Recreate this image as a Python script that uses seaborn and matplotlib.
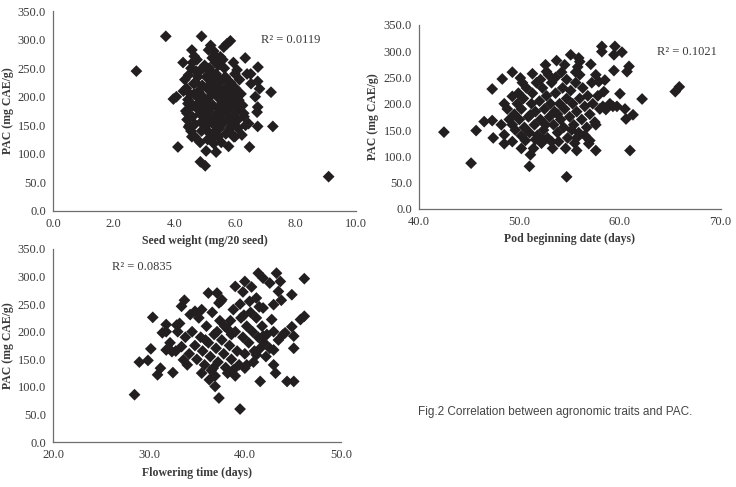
import numpy as np
import pandas as pd
import matplotlib
matplotlib.use("Agg")
import matplotlib.pyplot as plt
import seaborn as sns

# Seed weight (mg/20 seed) vs PAC
seed_weight = [
    2.75, 3.72, 4.90, 4.07, 3.97, 4.29, 4.58, 4.66, 4.12, 4.86, 5.02, 5.38, 5.79, 6.48,
    6.75, 7.25, 7.19, 6.81, 6.75, 6.76, 6.67, 6.73, 6.75, 6.34, 6.52, 6.53, 6.07, 9.09,
    5.85, 5.74, 5.63, 5.52, 5.13, 6.13, 6.29, 6.45, 6.23, 5.96, 5.85, 5.24, 5.30, 4.64,
    4.47, 4.42, 4.47, 4.58, 4.95,
    4.35, 4.40, 4.45, 4.38, 4.42, 4.50, 4.55, 4.60, 4.62, 4.65, 4.70, 4.72, 4.78, 4.80,
    4.82, 4.85, 4.88, 4.90, 4.92, 4.95, 4.98, 5.00, 5.02, 5.05, 5.08, 5.10, 5.12, 5.15,
    5.18, 5.20, 5.22, 5.25, 5.28, 5.30, 5.32, 5.35, 5.38, 5.40, 5.42, 5.45, 5.48, 5.50,
    5.52, 5.55, 5.58, 5.60, 5.62, 5.65, 5.68, 5.70, 5.72, 5.75, 5.78, 5.80, 5.85, 5.88,
    5.90, 5.92, 5.95, 6.00, 6.02, 6.05, 6.08, 6.10, 6.15, 6.20, 6.25, 6.30, 5.40, 5.30,
    5.45, 5.60, 5.25, 4.75, 4.55, 4.85, 5.10, 5.45, 5.70, 6.00, 6.35, 6.40, 4.50, 4.68,
    5.15, 5.55, 5.05, 4.75, 5.35, 5.65, 5.95, 6.10, 4.60, 5.20, 4.30, 5.00,
    4.52, 4.78, 5.07, 5.33, 5.57, 5.83, 4.68, 4.97, 5.27, 5.53, 5.77, 4.83, 5.13, 5.43,
    5.67, 6.05, 4.45, 5.97,
]
seed_pac = [
    245, 306, 306, 200, 196, 260, 282, 271, 112, 86, 79, 103, 113, 112,
    148, 148, 208, 214, 227, 252, 200, 173, 182, 268, 240, 223, 247, 60,
    298, 293, 287, 270, 282, 194, 171, 153, 133, 130, 147, 127, 118, 223,
    238, 171, 147, 130, 250,
    230, 215, 195, 175, 160, 150, 140, 165, 185, 205, 225, 245, 235, 210,
    190, 170, 155, 140, 220, 200, 180, 160, 145, 235, 215, 195, 175, 155,
    135, 245, 225, 205, 185, 165, 150, 260, 240, 220, 200, 180, 160, 145,
    230, 210, 190, 170, 155, 250, 235, 215, 195, 175, 160, 140, 225, 205,
    185, 165, 150, 240, 215, 195, 175, 160, 230, 205, 185, 165, 270, 280,
    255, 265, 268, 265, 250, 120, 125, 130, 135, 130, 150, 240, 180, 130,
    250, 120, 105, 200, 140, 185, 260, 145, 260, 290, 210, 255,
    205, 178, 188, 212, 228, 198, 152, 168, 230, 178, 208, 245, 162, 172,
    200, 185, 188, 210,
]

# Pod beginning date (days) vs PAC
pod_date = [
    42.5, 45.2, 45.7, 46.5, 47.3, 47.3, 47.4, 48.3, 48.5, 48.5, 48.5, 49.3, 49.3, 49.3,
    49.3, 50.1, 50.2, 50.2, 51.0, 51.1, 51.3, 52.1, 52.6, 52.7, 53.7, 54.5, 55.1, 54.7,
    54.7, 55.9, 56.0, 55.6, 57.1, 58.2, 58.2, 59.5, 59.4, 60.2, 59.4, 60.7, 60.9, 60.0,
    62.2, 61.3, 60.6, 61.0, 57.6, 57.6, 56.9, 55.7, 55.7, 58.4, 57.9, 58.3, 58.6, 59.3,
    59.7, 65.9, 65.5, 53.2, 52.4, 51.6, 51.1,
    49.5, 49.8, 50.0, 50.2, 50.4, 50.5, 50.7, 50.9, 51.0, 51.2, 51.3, 51.5, 51.6, 51.8,
    52.0, 52.1, 52.3, 52.4, 52.5, 52.7, 52.8, 53.0, 53.1, 53.2, 53.4, 53.5, 53.6, 53.8,
    54.0, 54.1, 54.3, 54.4, 54.5, 54.7, 54.8, 55.0, 55.1, 55.3, 55.4, 55.6, 55.7, 55.9,
    56.0, 56.2, 56.3, 56.5, 56.7, 56.8, 57.0, 57.2, 57.3, 57.5, 57.8, 58.0, 52.9, 53.6,
    51.7, 50.3, 49.0, 48.8, 49.6, 50.6, 52.2, 53.9, 55.5, 56.5, 54.2, 56.0, 58.5, 57.0,
    51.4, 53.3, 48.2, 49.9, 59.0, 55.8, 54.6, 60.5, 57.6, 52.6, 53.8, 55.2,
]
pod_pac = [
    146, 87, 149, 166, 168, 228, 135, 247, 200, 141, 124, 260, 214, 160,
    128, 249, 139, 115, 81, 103, 257, 246, 274, 261, 282, 274, 293, 246,
    61, 287, 280, 260, 275, 309, 299, 309, 293, 298, 263, 261, 271, 219,
    209, 179, 171, 111, 111, 160, 124, 111, 135, 223, 242, 195, 189, 195,
    195, 232, 223, 128, 132, 132, 179,
    180, 200, 170, 190, 210, 155, 230, 175, 145, 200, 220, 160, 185, 140,
    205, 170, 230, 150, 190, 215, 135, 175, 200, 240, 160, 185, 220, 145,
    200, 170, 230, 155, 190, 210, 135, 175, 225, 200, 160, 240, 185, 145,
    210, 170, 230, 195, 155, 215, 180, 240, 200, 165, 215, 190, 255, 250,
    240, 240, 170, 190, 150, 130, 125, 128, 125, 140, 260, 255, 245, 130,
    115, 115, 160, 220, 200, 270, 115, 190, 255, 160, 180, 150,
]

# Flowering time (days) vs PAC
flower_time = [
    28.5, 29.0, 29.9, 30.2, 30.4, 30.9, 31.2, 31.4, 31.8, 31.8, 32.5, 32.4, 32.9, 33.4,
    33.7, 33.6, 33.4, 34.3, 34.8, 35.5, 36.2, 36.3, 36.9, 37.3, 37.1, 37.3, 37.6, 39.0,
    40.0, 39.8, 40.7, 39.5, 41.4, 41.9, 42.6, 43.3, 43.7, 43.5, 43.8, 43.0, 44.9, 46.2,
    46.2, 45.8, 44.9, 45.1, 45.1, 44.2, 44.4, 45.1, 41.6, 43.0, 43.2, 43.0, 42.8, 41.9,
    41.2, 41.9, 41.2, 40.2, 40.0, 38.8, 36.7,
    34.5, 34.8, 35.0, 35.2, 35.4, 35.6, 35.8, 36.0, 36.2, 36.4, 36.6, 36.8, 37.0, 37.2,
    37.4, 37.6, 37.8, 38.0, 38.2, 38.4, 38.6, 38.8, 39.0, 39.2, 39.4, 39.6, 39.8, 40.0,
    40.2, 40.4, 40.6, 40.8, 41.0, 41.2, 41.4, 41.6, 41.8, 42.0, 42.3, 42.6, 35.5, 37.5,
    38.5, 39.5, 40.5, 36.5, 38.2, 39.0, 34.2, 33.8, 33.0, 32.2, 32.8, 34.0, 37.9, 36.9,
    40.9, 42.2, 39.9, 38.6, 37.1, 35.9, 41.5, 43.5, 43.0, 44.0, 31.8, 33.2,
]
flower_pac = [
    86, 145, 148, 169, 226, 122, 134, 198, 213, 167, 126, 164, 212, 246,
    257, 149, 173, 231, 237, 125, 270, 113, 101, 80, 270, 252, 258, 282,
    291, 272, 281, 60, 306, 297, 288, 306, 291, 273, 257, 249, 267, 296,
    228, 222, 209, 192, 170, 198, 110, 110, 110, 140, 125, 167, 222, 243,
    261, 192, 158, 140, 134, 131, 134,
    200, 175, 150, 225, 190, 165, 140, 210, 180, 155, 235, 195, 170, 145,
    220, 185, 160, 135, 205, 175, 150, 240, 200, 165, 140, 225, 190, 160,
    210, 180, 235, 200, 165, 225, 190, 170, 210, 180, 195, 170, 240, 255,
    220, 250, 255, 130, 125, 120, 160, 190, 200, 180, 165, 140, 210, 120,
    145, 155, 230, 195, 200, 185, 245, 185, 200, 195, 200, 215,
]

sns.set_style("white")
plt.rcParams["font.family"] = ["Liberation Serif", "DejaVu Serif"]

fig = plt.figure(figsize=(7.36, 4.87), dpi=100)

mark_color = "#231f20"
axis_color = "#6e6e6e"
text_color = "#3a3a3a"

panels = [
    dict(x=seed_weight, y=seed_pac, rect=[0.072, 0.567, 0.412, 0.410],
         xlim=(0, 10), xticks=[0, 2, 4, 6, 8, 10],
         xlabel="Seed weight (mg/20 seed)", r2="R\u00b2 = 0.0119", r2pos=(6.85, 299)),
    dict(x=pod_date, y=pod_pac, rect=[0.569, 0.571, 0.410, 0.378],
         xlim=(40, 70), xticks=[40, 50, 60, 70],
         xlabel="Pod beginning date (days)", r2="R\u00b2 = 0.1021", r2pos=(63.7, 299)),
    dict(x=flower_time, y=flower_pac, rect=[0.072, 0.092, 0.391, 0.397],
         xlim=(20, 50), xticks=[20, 30, 40, 50],
         xlabel="Flowering time (days)", r2="R\u00b2 = 0.0835", r2pos=(26.2, 317)),
]

for p in panels:
    ax = fig.add_axes(p["rect"])
    df = pd.DataFrame({"x": p["x"], "y": p["y"]})
    sns.scatterplot(data=df, x="x", y="y", ax=ax, marker="D", s=36,
                    color=mark_color, edgecolor="none", linewidth=0, clip_on=False)
    ax.set_xlim(*p["xlim"])
    ax.set_ylim(0, 350)
    ax.set_xticks(p["xticks"])
    ax.set_yticks(np.arange(0, 351, 50))
    ax.set_xticklabels([f"{t:.1f}" for t in p["xticks"]])
    ax.set_yticklabels([f"{t:.1f}" for t in np.arange(0, 351, 50)])
    ax.set_xlabel(p["xlabel"], fontsize=8.5, fontweight="bold", color=text_color, labelpad=4)
    ax.set_ylabel("PAC (mg CAE/g)", fontsize=8.5, fontweight="bold", color=text_color, labelpad=3)
    ax.tick_params(axis="both", labelsize=9, colors=text_color, length=3, width=0.8,
                   direction="out", pad=2)
    for side in ["top", "right"]:
        ax.spines[side].set_visible(False)
    for side in ["left", "bottom"]:
        ax.spines[side].set_color(axis_color)
        ax.spines[side].set_linewidth(0.9)
    ax.text(p["r2pos"][0], p["r2pos"][1], p["r2"], fontsize=9, color=text_color, va="center")

fig.text(0.568, 0.154, "Fig.2 Correlation between agronomic traits and PAC.",
         fontsize=8.5, color="#444444", family=["Liberation Sans", "DejaVu Sans"], va="center")

fig.savefig("out.png", dpi=100, facecolor="white")
